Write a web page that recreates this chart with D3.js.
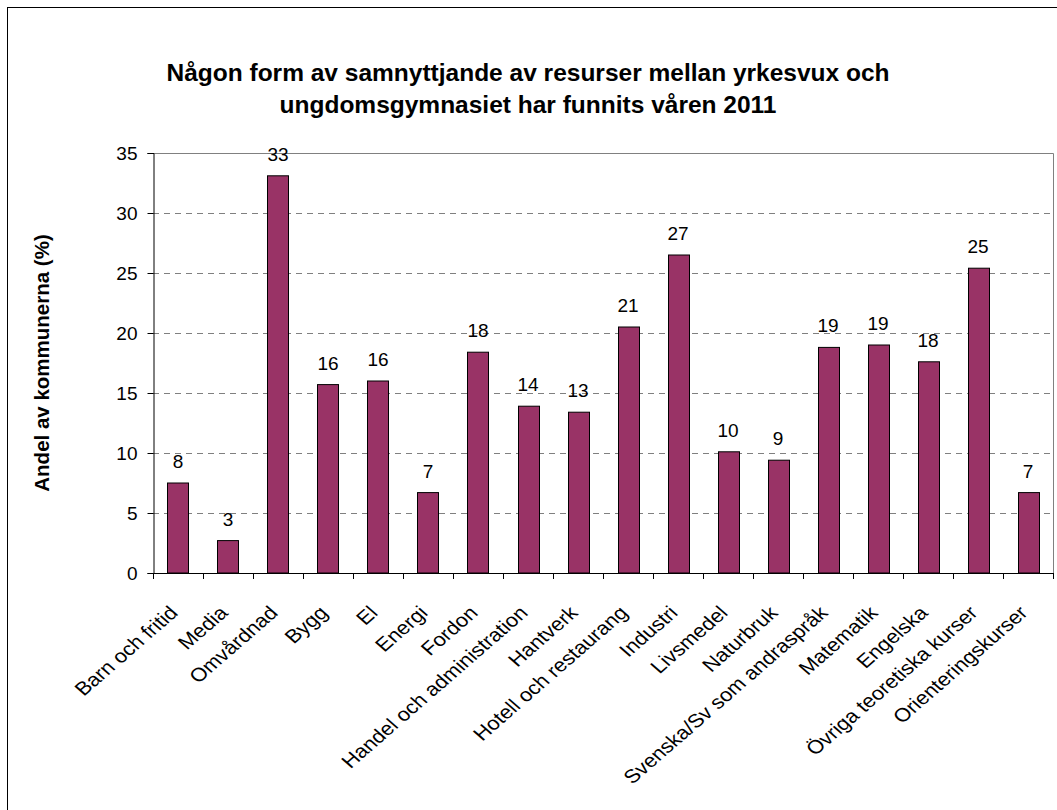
<!DOCTYPE html>
<html><head><meta charset="utf-8">
<script src="https://cdn.jsdelivr.net/npm/d3@7"></script>
<style>body{margin:0;background:#fff}svg{display:block;font-family:Arial,"Liberation Sans",sans-serif}</style>
</head><body>
<script>
const categories = ["Barn och fritid","Media","Omvårdnad","Bygg","El","Energi","Fordon","Handel och administration","Hantverk","Hotell och restaurang","Industri","Livsmedel","Naturbruk","Svenska/Sv som andraspråk","Matematik","Engelska","Övriga teoretiska kurser","Orienteringskurser"];
const values = [7.5,2.7,33.1,15.7,16.0,6.7,18.4,13.9,13.4,20.5,26.5,10.1,9.4,18.8,19.0,17.6,25.4,6.7];
const labels = [8,3,33,16,16,7,18,14,13,21,27,10,9,19,19,18,25,7];
const yTicks = [0,5,10,15,20,25,30,35];
const titleLines = ["Någon form av samnyttjande av resurser mellan yrkesvux och","ungdomsgymnasiet har funnits våren 2011"];
const yTitle = "Andel av kommunerna (%)";

const W = 1057, H = 810;
const m = {left:153, right:1053, top:153, bottom:573};
const svg = d3.select("body").append("svg").attr("width",W).attr("height",H);

svg.append("rect").attr("x",7.5).attr("y",7.5).attr("width",W+10).attr("height",H+10)
  .attr("fill","none").attr("stroke","#000").attr("stroke-width",1);

const x = d3.scaleBand().domain(categories).range([m.left,m.right]).paddingInner(0.58).paddingOuter(0.29);
const y = d3.scaleLinear().domain([0,35]).range([m.bottom,m.top]);

// gridlines
svg.append("g").selectAll("line").data(yTicks.filter(d=>d>0&&d<35)).join("line")
  .attr("x1",m.left).attr("x2",m.right).attr("y1",d=>Math.round(y(d))+0.5).attr("y2",d=>Math.round(y(d))+0.5)
  .attr("stroke","#808080").attr("stroke-dasharray","6,5");
svg.append("path").attr("d",`M${m.left},${m.top+0.5}H${m.right+0.5}V${m.bottom}`)
  .attr("fill","none").attr("stroke","#808080");

// bars
svg.append("g").selectAll("rect").data(values).join("rect")
  .attr("x",(d,i)=>Math.round(x(categories[i]))+0.5)
  .attr("y",d=>y(d))
  .attr("width",x.bandwidth())
  .attr("height",d=>y(0)-y(d))
  .attr("fill","#993366").attr("stroke","#000").attr("stroke-width",1);

// value labels
svg.append("g").selectAll("text").data(values).join("text")
  .attr("x",(d,i)=>x(categories[i])+x.bandwidth()/2)
  .attr("y",d=>y(d)-15)
  .attr("text-anchor","middle").attr("font-size",19).attr("fill","#000")
  .text((d,i)=>labels[i]);

// y axis
const yAxis = svg.append("g").attr("transform",`translate(${m.left+0.5},0)`)
  .call(d3.axisLeft(y).tickValues(yTicks).tickSize(6).tickPadding(10).tickFormat(d3.format("d")));
yAxis.selectAll("text").attr("font-size",19).attr("fill","#000").attr("font-family","Arial,'Liberation Sans',sans-serif");
yAxis.selectAll("line,path").attr("stroke","#000");

// x axis
const step = x.step();
const xg = svg.append("g");
xg.append("line").attr("x1",m.left).attr("x2",m.right+0.5).attr("y1",m.bottom+0.5).attr("y2",m.bottom+0.5).attr("stroke","#000");
const bounds = d3.range(categories.length+1).map(i=>m.left + i*step);
xg.selectAll("line.t").data(bounds).join("line").attr("class","t")
  .attr("x1",d=>Math.round(d)+0.5).attr("x2",d=>Math.round(d)+0.5).attr("y1",m.bottom).attr("y2",m.bottom+6).attr("stroke","#000");
xg.selectAll("text").data(categories).join("text")
  .attr("transform",d=>`translate(${x(d)+x.bandwidth()/2+1},${m.bottom+41}) scale(1.15,1) rotate(-45)`)
  .attr("text-anchor","end").attr("font-size",19).attr("fill","#000")
  .text(d=>d);

// title
svg.append("g").selectAll("text").data(titleLines).join("text")
  .attr("x",528).attr("y",(d,i)=>81+i*32)
  .attr("text-anchor","middle").attr("font-size",24.5).attr("font-weight","bold").text(d=>d);

// y title
svg.append("text").attr("transform",`translate(49,${(m.top+m.bottom)/2}) rotate(-90)`)
  .attr("text-anchor","middle").attr("font-size",20.5).attr("font-weight","bold").text(yTitle);
</script>
</body></html>
